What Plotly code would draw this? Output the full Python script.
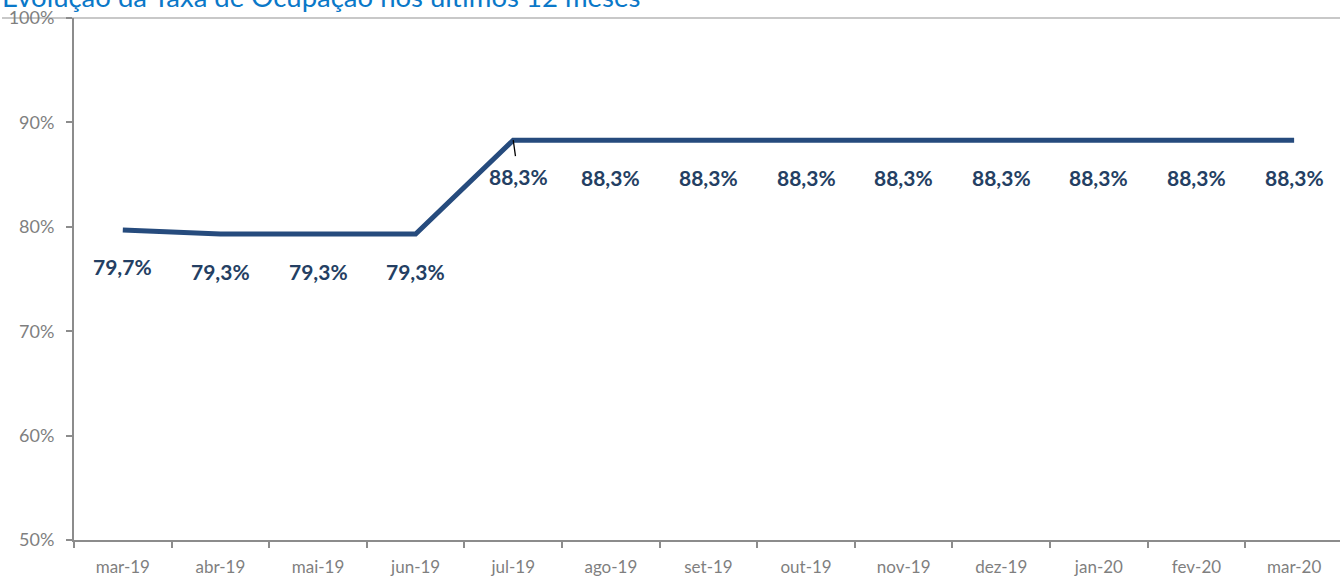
import plotly.graph_objects as go

months = ["mar-19", "abr-19", "mai-19", "jun-19", "jul-19", "ago-19", "set-19",
          "out-19", "nov-19", "dez-19", "jan-20", "fev-20", "mar-20"]
rate = [79.7, 79.3, 79.3, 79.3, 88.3, 88.3, 88.3, 88.3, 88.3, 88.3, 88.3, 88.3, 88.3]
y_ticks = [50, 60, 70, 80, 90, 100]
y_tick_labels = ["50%", "60%", "70%", "80%", "90%", "100%"]
title_text = "Evolução da Taxa de Ocupação nos últimos 12 meses"

LINE = "#264B7D"
LABEL = "#243F63"
AXIS = "#8C8C8C"
FONT = "Lato"

W, H = 1340, 580
ML, MT, MB = 74, 18, 40
PW = W - ML

fig = go.Figure()
fig.add_trace(go.Scatter(
    x=months, y=rate, mode="lines",
    line=dict(color=LINE, width=5),
    hoverinfo="skip", showlegend=False,
))

annotations = []
for i, (m, v) in enumerate(zip(months, rate)):
    txt = f"{v:.1f}%".replace(".", ",")
    if i == 4:
        annotations.append(dict(
            x=m, y=v, xref="x", yref="y", text=f"<b>{txt}</b>",
            showarrow=True, arrowhead=0, arrowwidth=1.3, arrowcolor="#000000",
            ax=5, ay=36, startstandoff=6, standoff=0,
            font=dict(family=FONT, size=21, color=LABEL),
        ))
    else:
        annotations.append(dict(
            x=m, y=v, xref="x", yref="y", text=f"<b>{txt}</b>",
            showarrow=False, yshift=-37,
            font=dict(family=FONT, size=21, color=LABEL),
        ))

annotations.append(dict(
    x=-ML / PW, y=1.0, xref="paper", yref="paper",
    xanchor="left", yanchor="bottom", yshift=3,
    text=title_text, showarrow=False,
    font=dict(family=FONT, size=27.5, color="#0A78C8"),
))

fig.update_layout(
    width=W, height=H,
    margin=dict(l=ML, r=0, t=MT, b=MB),
    paper_bgcolor="white", plot_bgcolor="white",
    annotations=annotations,
    shapes=[dict(type="line", xref="paper", yref="paper",
                 x0=-(ML - 2) / PW, x1=1.0, y0=1.0, y1=1.0,
                 line=dict(color="#C8C8C8", width=2), layer="below")],
    font=dict(family=FONT, size=17, color=AXIS),
)

fig.update_xaxes(
    type="category",
    range=[-0.5, 12.47],
    showgrid=False, zeroline=False,
    showline=True, linecolor=AXIS, linewidth=2,
    ticks="outside", ticklen=6, tickwidth=2, tickcolor=AXIS,
    tickson="boundaries", ticklabelstandoff=11,
    tickfont=dict(family=FONT, size=17, color="#7F7F7F"),
)
fig.update_yaxes(
    tickmode="array", tickvals=y_ticks, ticktext=y_tick_labels,
    range=[50, 100],
    showgrid=False, zeroline=False,
    showline=True, linecolor=AXIS, linewidth=2,
    ticks="outside", ticklen=6, tickwidth=2, tickcolor=AXIS,
    ticklabelstandoff=8, ticklabeloverflow="allow",
    tickfont=dict(family=FONT, size=18, color="#7F7F7F"),
)

fig.write_html(
    "out.html",
    config={"displayModeBar": False},
    post_script="document.body.style.margin='0';document.body.style.padding='0';",
)
